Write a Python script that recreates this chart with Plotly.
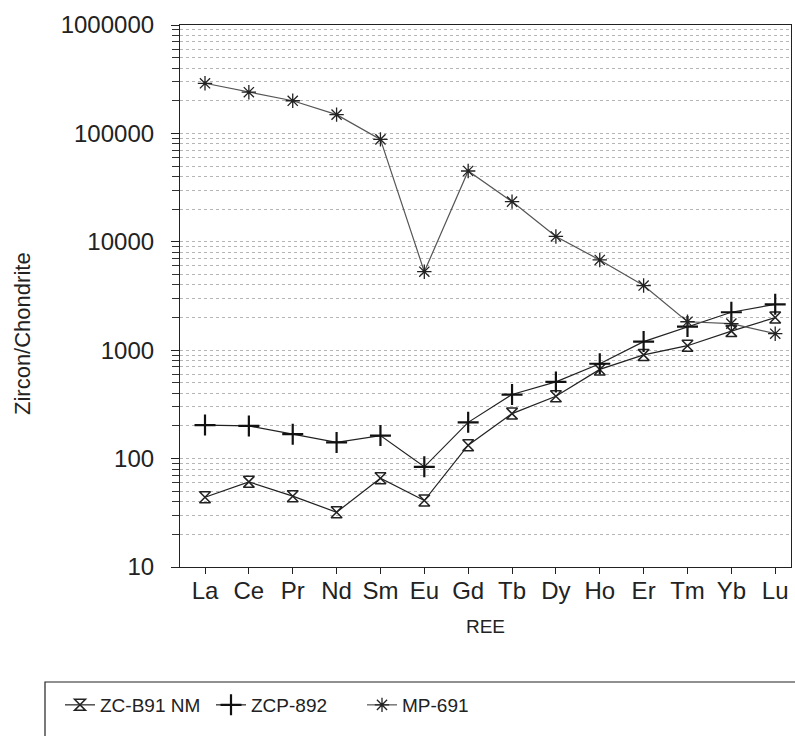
import plotly.graph_objects as go

ree = ["La", "Ce", "Pr", "Nd", "Sm", "Eu", "Gd", "Tb", "Dy", "Ho", "Er", "Tm", "Yb", "Lu"]
zc_b91_nm = [44, 61, 45, 32, 66, 41, 133, 260, 376, 665, 905, 1100, 1500, 2000]
zcp_892 = [204, 200, 168, 141, 163, 84, 216, 390, 510, 750, 1200, 1650, 2240, 2650]
mp_691 = [290000, 240000, 200000, 149000, 88000, 5300, 45000, 23500, 11200, 6800, 3950, 1830, 1760, 1420]
y_tick_vals = [10, 100, 1000, 10000, 100000, 1000000]
y_tick_text = ["10", "100", "1000", "10000", "100000", "1000000"]

x_idx = list(range(len(ree)))

fig = go.Figure()
fig.add_trace(go.Scatter(
    x=x_idx, y=zc_b91_nm, name="ZC-B91 NM", mode="lines+markers",
    line=dict(color="#222222", width=1.2),
    marker=dict(symbol="hourglass-open", size=11, color="#222222", line=dict(width=1.5, color="#222222")),
))
fig.add_trace(go.Scatter(
    x=x_idx, y=zcp_892, name="ZCP-892", mode="lines+markers",
    line=dict(color="#222222", width=1.2),
    marker=dict(symbol="cross-thin-open", size=15, color="#111111", line=dict(width=2.2, color="#111111")),
))
fig.add_trace(go.Scatter(
    x=x_idx, y=mp_691, name="MP-691", mode="lines+markers",
    line=dict(color="#555555", width=1.2),
    marker=dict(symbol="asterisk-open", size=12, color="#222222", line=dict(width=1.3, color="#222222")),
))

L, R, T, B = 180, 4, 25, 169
W, H = 795, 736
pw, ph = W - L - R, H - T - B

def px(x):
    return (x - L) / pw

def py(y):
    return (H - B - y) / ph

fig.add_shape(type="rect", xref="paper", yref="paper",
              x0=px(45), x1=px(800), y0=py(682), y1=py(760),
              line=dict(color="#222222", width=1.2), fillcolor="rgba(0,0,0,0)")

fig.add_annotation(text="Zircon/Chondrite", textangle=-90, xref="paper", yref="paper",
                   x=px(22), y=py(333), xanchor="center", yanchor="middle", showarrow=False,
                   font=dict(size=22, color="#222222", family="Liberation Sans"))

fig.update_layout(
    width=W, height=H,
    margin=dict(l=L, r=R, t=T, b=B, pad=0),
    paper_bgcolor="white", plot_bgcolor="white",
    font=dict(family="Liberation Sans", color="#222222"),
    showlegend=True,
    legend=dict(
        orientation="h", x=px(60), y=py(686), xanchor="left", yanchor="top",
        font=dict(size=19, family="Liberation Sans", color="#222222"),
        bgcolor="rgba(0,0,0,0)", borderwidth=0,
        entrywidth=106, entrywidthmode="pixels", itemwidth=30,
        traceorder="normal",
    ),
    xaxis=dict(
        range=[-0.57, 13.36],
        tickmode="array", tickvals=x_idx, ticktext=ree,
        ticks="outside", ticklen=6, tickcolor="#222222",
        showgrid=False, zeroline=False,
        showline=True, linecolor="#222222", linewidth=1.2, mirror=True,
        tickfont=dict(size=24, color="#222222"),
        ticklabelstandoff=-4,
        title=dict(text="REE", font=dict(size=19, color="#222222"), standoff=16),
    ),
    yaxis=dict(
        type="log", range=[1, 6],
        tickmode="array", tickvals=y_tick_vals, ticktext=y_tick_text,
        ticks="outside", ticklen=8, tickcolor="#222222",
        showgrid=True, gridcolor="#b5b5b5", griddash="dot", gridwidth=1,
        minor=dict(ticks="outside", ticklen=7, tickcolor="#333333", dtick="D1",
                   showgrid=True, gridcolor="#b5b5b5", griddash="dot", gridwidth=1),
        zeroline=False,
        showline=True, linecolor="#222222", linewidth=1.2, mirror=True,
        tickfont=dict(size=24, color="#222222"),
        ticklabelstandoff=12,
    ),
)

fig.write_html("out.html")
